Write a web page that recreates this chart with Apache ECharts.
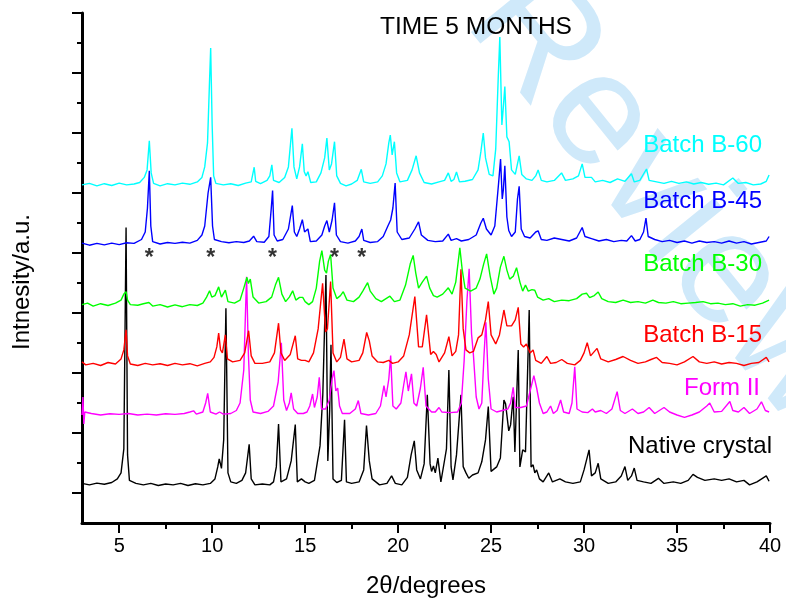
<!DOCTYPE html>
<html>
<head>
<meta charset="utf-8">
<script src="https://cdn.jsdelivr.net/npm/echarts@6/dist/echarts.min.js"></script>
<style>
  html, body { margin: 0; padding: 0; background: #fff; }
  #chart { width: 786px; height: 604px; }
</style>
</head>
<body>
<div id="chart"></div>
<script>
// Powder XRD patterns, [2θ (deg), intensity above the pattern's own baseline (a.u.)]
const batchB60 = [[3.0,0],[3.4,5],[3.8,-3],[4.2,4],[4.6,-2],[5.0,6],[5.4,0],[5.8,3],[6.1,8],[6.35,25],[6.5,50],[6.62,147],[6.72,40],[6.85,5],[7.2,-3],[7.6,4],[8.0,0],[8.4,6],[8.8,2],[9.2,10],[9.45,25],[9.6,60],[9.75,140],[9.85,330],[9.92,456],[10.0,200],[10.08,30],[10.2,5],[10.6,0],[11.0,4],[11.4,-2],[11.8,6],[12.1,10],[12.26,59],[12.34,12],[12.6,4],[12.95,15],[13.1,30],[13.21,67],[13.3,15],[13.6,8],[13.9,25],[14.1,60],[14.29,189],[14.4,60],[14.55,20],[14.7,60],[14.85,137],[14.95,45],[15.05,30],[15.15,44],[15.3,8],[15.6,10],[15.85,40],[16.05,90],[16.17,156],[16.3,50],[16.42,70],[16.58,144],[16.7,30],[16.9,5],[17.2,-3],[17.5,3],[17.8,15],[18.02,52],[18.15,10],[18.5,5],[18.9,10],[19.15,30],[19.35,70],[19.5,140],[19.58,166],[19.68,100],[19.8,144],[19.92,40],[20.1,10],[20.5,15],[20.75,50],[20.97,97],[21.15,40],[21.4,8],[21.8,3],[22.2,10],[22.5,15],[22.7,40],[22.85,12],[23.0,18],[23.14,43],[23.3,10],[23.6,12],[24.0,18],[24.3,50],[24.45,110],[24.58,173],[24.7,90],[24.9,35],[25.1,30],[25.25,120],[25.38,350],[25.47,493],[25.58,200],[25.66,260],[25.74,328],[25.85,160],[25.97,144],[26.1,50],[26.3,35],[26.51,97],[26.65,35],[26.9,20],[27.2,15],[27.4,30],[27.53,50],[27.7,15],[28.0,10],[28.4,15],[28.79,40],[29.0,15],[29.4,20],[29.7,30],[29.9,70],[30.05,25],[30.4,25],[30.6,10],[31.0,15],[31.4,8],[31.8,20],[32.2,12],[32.55,37],[32.7,10],[33.0,15],[33.36,53],[33.5,15],[33.9,10],[34.3,5],[34.7,12],[35.1,5],[35.5,10],[35.9,3],[36.3,8],[36.7,2],[37.1,6],[37.5,0],[38.0,23],[38.3,5],[38.7,8],[39.1,0],[39.5,3],[39.8,12],[39.95,33]];

const batchB45 = [[3.0,3],[3.4,-4],[3.8,2],[4.2,-3],[4.6,3],[5.0,-2],[5.4,4],[5.8,2],[6.2,15],[6.4,40],[6.52,120],[6.62,244],[6.7,60],[6.8,8],[7.2,0],[7.6,5],[8.0,2],[8.4,6],[8.8,3],[9.2,12],[9.45,30],[9.6,60],[9.78,170],[9.92,222],[10.02,60],[10.12,15],[10.5,8],[10.9,4],[11.3,8],[11.7,5],[12.0,10],[12.23,26],[12.4,8],[12.8,6],[13.05,25],[13.18,120],[13.25,178],[13.33,30],[13.5,10],[13.8,15],[14.1,50],[14.31,128],[14.42,40],[14.55,25],[14.7,50],[14.85,81],[14.97,40],[15.05,35],[15.15,50],[15.28,8],[15.6,10],[15.9,30],[16.05,60],[16.17,78],[16.3,40],[16.45,80],[16.58,137],[16.68,30],[16.9,8],[17.3,3],[17.7,10],[17.9,25],[18.05,50],[18.15,12],[18.5,5],[18.9,8],[19.2,25],[19.45,60],[19.6,80],[19.72,120],[19.84,203],[19.95,40],[20.2,15],[20.6,20],[20.9,50],[21.1,74],[21.25,30],[21.6,12],[22.0,8],[22.4,10],[22.7,33],[22.85,12],[23.14,18],[23.4,10],[23.8,15],[24.2,30],[24.45,70],[24.58,86],[24.75,50],[25.0,30],[25.2,60],[25.4,200],[25.51,283],[25.6,150],[25.66,180],[25.74,261],[25.85,90],[25.95,45],[26.1,25],[26.3,40],[26.42,150],[26.51,192],[26.62,50],[26.8,25],[27.1,20],[27.4,40],[27.53,44],[27.7,15],[28.0,12],[28.4,20],[28.8,15],[29.2,10],[29.6,20],[29.9,55],[30.05,25],[30.4,18],[30.8,10],[31.2,15],[31.6,8],[32.0,12],[32.3,10],[32.55,28],[32.75,10],[33.0,15],[33.2,40],[33.33,86],[33.45,25],[33.8,15],[34.2,8],[34.6,12],[35.0,5],[35.4,10],[35.8,3],[36.2,10],[36.6,5],[37.0,8],[37.4,3],[37.8,10],[38.2,3],[38.6,8],[39.0,0],[39.4,5],[39.8,10],[39.95,25]];

const batchB30 = [[3.0,5],[3.3,10],[3.6,0],[4.0,8],[4.4,2],[4.8,10],[5.1,20],[5.25,40],[5.37,48],[5.45,20],[5.6,5],[6.0,3],[6.3,8],[6.6,12],[6.8,0],[7.2,5],[7.6,-3],[8.0,4],[8.4,-2],[8.8,5],[9.2,2],[9.5,10],[9.7,30],[9.86,51],[9.98,30],[10.15,35],[10.35,64],[10.5,30],[10.71,53],[10.85,15],[11.2,10],[11.5,20],[11.7,60],[11.87,96],[11.95,75],[12.05,90],[12.2,30],[12.5,10],[12.9,15],[13.2,30],[13.4,70],[13.57,96],[13.75,40],[13.95,15],[14.15,30],[14.33,51],[14.5,20],[14.7,29],[14.87,29],[15.0,15],[15.2,5],[15.4,15],[15.6,60],[15.78,150],[15.9,185],[16.05,120],[16.15,110],[16.25,150],[16.37,172],[16.5,60],[16.7,25],[16.9,35],[17.05,48],[17.25,20],[17.6,15],[17.9,30],[18.1,50],[18.36,78],[18.5,50],[18.8,25],[19.1,15],[19.35,25],[19.56,33],[19.8,15],[20.1,20],[20.4,70],[20.65,140],[20.81,169],[20.95,110],[21.1,60],[21.3,80],[21.53,100],[21.7,60],[21.9,35],[22.1,30],[22.4,40],[22.7,61],[22.9,40],[23.1,80],[23.32,194],[23.45,120],[23.6,60],[23.9,50],[24.2,60],[24.4,90],[24.6,140],[24.76,174],[24.95,100],[25.15,40],[25.3,60],[25.5,130],[25.69,166],[25.85,120],[26.0,90],[26.2,100],[26.37,128],[26.55,80],[26.7,50],[26.85,70],[27.0,50],[27.2,55],[27.35,53],[27.5,30],[27.8,20],[28.1,25],[28.4,15],[28.8,20],[29.2,18],[29.6,25],[29.9,40],[30.13,43],[30.3,28],[30.55,35],[30.76,47],[30.95,25],[31.3,15],[31.7,12],[32.1,20],[32.5,12],[32.9,15],[33.3,10],[33.7,20],[34.0,12],[34.4,10],[34.8,15],[35.2,8],[35.6,10],[36.0,12],[36.4,15],[36.8,8],[37.2,10],[37.6,5],[38.0,8],[38.4,0],[38.8,5],[39.2,3],[39.6,10],[39.95,20]];

const batchB15 = [[3.0,10],[3.2,0],[3.6,5],[4.0,-2],[4.4,8],[4.8,3],[5.1,20],[5.25,50],[5.37,117],[5.45,30],[5.6,3],[6.0,-2],[6.4,5],[6.8,0],[7.2,4],[7.6,-2],[8.0,5],[8.4,0],[8.8,4],[9.2,-3],[9.6,5],[9.9,10],[10.1,25],[10.25,60],[10.35,106],[10.45,50],[10.55,40],[10.71,100],[10.82,20],[11.1,10],[11.5,15],[11.75,40],[11.96,114],[12.1,30],[12.3,5],[12.7,5],[13.1,10],[13.35,40],[13.57,139],[13.7,40],[13.9,15],[14.2,35],[14.47,97],[14.6,20],[14.8,15],[15.0,15],[15.2,10],[15.45,40],[15.7,120],[15.94,272],[16.1,110],[16.2,120],[16.37,278],[16.5,40],[16.7,10],[16.9,25],[17.09,86],[17.25,20],[17.5,10],[17.9,15],[18.1,40],[18.31,108],[18.45,80],[18.6,30],[18.9,10],[19.2,8],[19.5,15],[19.7,5],[20.0,10],[20.3,30],[20.6,100],[20.9,228],[21.1,60],[21.3,60],[21.53,167],[21.75,35],[21.9,45],[22.05,35],[22.2,10],[22.5,40],[22.73,94],[22.9,30],[23.1,45],[23.25,100],[23.38,319],[23.5,120],[23.65,50],[23.85,40],[24.05,45],[24.3,90],[24.5,100],[24.7,150],[24.85,211],[25.0,100],[25.25,70],[25.45,100],[25.69,183],[25.85,130],[26.1,130],[26.3,150],[26.46,192],[26.6,70],[26.75,60],[26.9,70],[27.1,40],[27.26,50],[27.4,15],[27.7,5],[28.0,28],[28.2,5],[28.5,8],[28.8,18],[29.1,5],[29.5,0],[29.8,15],[30.0,40],[30.17,74],[30.35,30],[30.7,55],[30.9,20],[31.3,10],[31.7,18],[32.1,28],[32.5,15],[32.9,5],[33.3,10],[33.6,18],[33.9,25],[34.2,8],[34.6,5],[35.0,0],[35.4,10],[35.86,28],[36.2,10],[36.6,5],[37.0,10],[37.4,3],[37.8,8],[38.2,5],[38.6,-2],[39.0,5],[39.4,8],[39.8,25],[39.95,10]];

const formII = [[3.0,0],[3.05,60],[3.1,-30],[3.15,10],[3.5,5],[4.0,0],[4.5,4],[5.0,2],[5.5,5],[6.0,0],[6.5,3],[7.0,0],[7.5,4],[8.0,2],[8.5,5],[8.8,10],[9.0,14],[9.15,3],[9.5,10],[9.65,40],[9.76,72],[9.9,10],[10.2,3],[10.4,10],[10.6,3],[11.0,5],[11.3,15],[11.5,40],[11.7,150],[11.85,461],[11.95,200],[12.05,50],[12.2,10],[12.6,5],[13.0,12],[13.3,30],[13.55,110],[13.72,241],[13.85,50],[14.0,15],[14.15,40],[14.25,74],[14.38,20],[14.6,5],[14.9,5],[15.1,10],[15.25,30],[15.4,70],[15.5,25],[15.65,60],[15.76,126],[15.88,20],[16.1,20],[16.3,50],[16.45,120],[16.55,148],[16.65,80],[16.75,90],[16.85,30],[17.0,5],[17.4,5],[17.7,20],[17.86,48],[18.0,5],[18.4,0],[18.8,5],[19.05,30],[19.24,98],[19.35,60],[19.5,120],[19.6,198],[19.72,30],[19.9,20],[20.15,40],[20.3,100],[20.42,144],[20.55,80],[20.72,137],[20.85,40],[21.0,30],[21.2,90],[21.35,159],[21.5,30],[21.8,10],[22.0,10],[22.2,25],[22.35,10],[22.8,8],[23.2,10],[23.4,40],[23.55,180],[23.7,380],[23.82,487],[23.95,270],[24.05,200],[24.2,60],[24.35,20],[24.5,40],[24.62,200],[24.72,309],[24.85,120],[25.0,20],[25.3,10],[25.6,15],[25.9,20],[26.05,40],[26.19,92],[26.3,25],[26.6,25],[26.9,30],[27.1,80],[27.3,131],[27.45,90],[27.6,40],[27.8,5],[28.0,10],[28.2,30],[28.35,5],[28.55,15],[28.74,50],[28.9,10],[29.2,5],[29.35,40],[29.5,161],[29.62,20],[29.9,10],[30.2,8],[30.45,20],[30.6,10],[30.9,15],[31.2,5],[31.5,20],[31.78,78],[31.95,15],[32.2,5],[32.6,20],[32.9,5],[33.2,10],[33.5,25],[33.8,5],[34.3,25],[34.6,10],[35.0,0],[35.4,-8],[35.8,0],[36.2,10],[36.6,30],[36.76,40],[37.0,10],[37.4,12],[37.84,45],[38.0,15],[38.3,10],[38.6,25],[38.9,5],[39.3,20],[39.54,44],[39.75,15],[39.95,10]];

const nativeCrystal = [[3.0,5],[3.4,0],[3.8,6],[4.2,2],[4.6,8],[4.9,20],[5.1,40],[5.25,120],[5.37,858],[5.45,100],[5.55,15],[5.9,5],[6.3,0],[6.7,5],[7.1,-2],[7.5,3],[7.9,0],[8.3,5],[8.7,-2],[9.1,4],[9.5,0],[9.9,5],[10.15,20],[10.3,60],[10.38,87],[10.5,55],[10.62,150],[10.74,589],[10.85,40],[11.0,10],[11.3,5],[11.6,15],[11.8,40],[11.99,135],[12.1,20],[12.3,0],[12.7,3],[13.1,0],[13.3,10],[13.45,60],[13.57,203],[13.7,10],[14.0,20],[14.25,80],[14.47,201],[14.58,10],[14.8,20],[15.0,10],[15.2,5],[15.5,15],[15.8,130],[15.95,300],[16.12,700],[16.22,80],[16.32,250],[16.39,467],[16.5,20],[16.7,8],[16.95,15],[17.12,217],[17.22,10],[17.5,5],[17.9,10],[18.15,50],[18.3,198],[18.45,80],[18.6,20],[19.0,0],[19.4,5],[19.65,30],[19.85,5],[20.2,0],[20.5,25],[20.7,100],[20.87,147],[21.0,50],[21.2,20],[21.4,70],[21.57,300],[21.72,70],[21.8,45],[21.9,63],[22.0,40],[22.14,89],[22.3,10],[22.5,83],[22.6,120],[22.73,383],[22.85,60],[22.95,17],[23.14,100],[23.38,300],[23.5,61],[23.65,40],[23.8,22],[24.0,33],[24.3,40],[24.5,77],[24.7,150],[24.85,261],[25.0,45],[25.3,60],[25.5,90],[25.69,283],[25.78,270],[25.95,180],[26.05,200],[26.19,294],[26.28,110],[26.38,300],[26.46,450],[26.55,60],[26.7,117],[26.85,110],[27.05,583],[27.15,60],[27.26,67],[27.35,40],[27.45,50],[27.6,20],[27.8,10],[28.1,40],[28.3,10],[28.7,20],[29.0,10],[29.4,5],[29.8,10],[30.0,50],[30.27,117],[30.4,30],[30.6,40],[30.76,72],[30.9,20],[31.3,5],[31.7,10],[32.0,30],[32.2,61],[32.35,15],[32.55,30],[32.7,56],[32.85,15],[33.2,10],[33.6,5],[34.0,22],[34.3,5],[34.8,10],[35.2,5],[35.6,15],[35.86,35],[36.1,25],[36.5,15],[37.0,20],[37.4,15],[37.8,20],[38.2,10],[38.6,15],[38.9,0],[39.3,10],[39.8,30],[39.95,12]];

// vertical stacking offsets for each pattern (same a.u.)
const seriesNames = ['Batch B-60', 'Batch B-45', 'Batch B-30', 'Batch B-15', 'Form II', 'Native crystal'];
const seriesColors = ['#00ffff', '#0000ff', '#00ff00', '#ff0000', '#ff00ff', '#000000'];
const stackOffsets = [1127, 930, 723, 527, 360, 127];
const patterns = [batchB60, batchB45, batchB30, batchB15, formII, nativeCrystal];

// peaks flagged with an asterisk
const starredPeaks = [6.62, 9.92, 13.25, 16.58, 18.05];
const starLevel = 880;

// tick positions
const xMajorTicks = [5, 10, 15, 20, 25, 30, 35, 40];
const xMinorTicks = [7.5, 12.5, 17.5, 22.5, 27.5, 32.5, 37.5];
const yMajorTicks = [100, 300, 500, 700, 900, 1100, 1300, 1500, 1700];
const yMinorTicks = [200, 400, 600, 800, 1000, 1200, 1400, 1600];

const FONT = "'Liberation Sans', Arial, sans-serif";
const NARROW = "'Liberation Sans Narrow', 'Arial Narrow', 'Liberation Sans', sans-serif";

const chart = echarts.init(document.getElementById('chart'), null, { renderer: 'canvas' });

const lineSeries = patterns.map((pts, i) => ({
  name: seriesNames[i],
  type: 'line',
  xAxisIndex: 0,
  yAxisIndex: 0,
  showSymbol: false,
  symbol: 'none',
  silent: true,
  z: 10 - i,
  lineStyle: { color: seriesColors[i], width: 1.4 },
  data: pts.map(p => [p[0], p[1] + stackOffsets[i]])
}));

const starSeries = {
  type: 'scatter',
  xAxisIndex: 0,
  yAxisIndex: 0,
  symbolSize: 0,
  silent: true,
  z: 20,
  label: {
    show: true, position: 'inside', formatter: '*',
    color: '#000', fontSize: 23, fontFamily: FONT, fontWeight: 'bold'
  },
  data: starredPeaks.map(x => [x, starLevel])
};

const axisLineStyle = { color: '#000', width: 3 };

const option = {
  backgroundColor: '#fff',
  animation: false,
  grid: { left: 82, right: 16, top: 13, bottom: 81, containLabel: false, z: 5 },
  xAxis: [
    {
      type: 'value', min: 3, max: 40, position: 'bottom',
      axisLine: { show: true, lineStyle: axisLineStyle },
      axisTick: { show: true, customValues: xMajorTicks, length: 10, lineStyle: { color: '#000', width: 2 } },
      axisLabel: { show: true, customValues: xMajorTicks, margin: 13, color: '#000', fontSize: 20, fontFamily: NARROW },
      splitLine: { show: false }
    },
    {
      type: 'value', min: 3, max: 40, position: 'bottom',
      axisLine: { show: false },
      axisTick: { show: true, customValues: xMinorTicks, length: 6, lineStyle: { color: '#000', width: 2 } },
      axisLabel: { show: false },
      splitLine: { show: false }
    }
  ],
  yAxis: [
    {
      type: 'value', min: 0, max: 1700, position: 'left',
      axisLine: { show: true, lineStyle: axisLineStyle },
      axisTick: { show: true, customValues: yMajorTicks, length: 10, lineStyle: { color: '#000', width: 2 } },
      axisLabel: { show: false },
      splitLine: { show: false }
    },
    {
      type: 'value', min: 0, max: 1700, position: 'left',
      axisLine: { show: false },
      axisTick: { show: true, customValues: yMinorTicks, length: 5, lineStyle: { color: '#000', width: 2 } },
      axisLabel: { show: false },
      splitLine: { show: false }
    }
  ],
  graphic: [
    // light diagonal watermark behind the plot
    { type: 'text', x: 497, y: -6, rotation: -0.89, z: -10, zlevel: 0, silent: true, style: { text: 'Review', font: `160px ${FONT}`, fill: '#cfe9fa', textAlign: 'left', textVerticalAlign: 'middle' } },
    { type: 'text', x: 380, y: 27, z: 30, style: { text: 'TIME 5 MONTHS', font: `24.5px ${FONT}`, fill: '#000', textAlign: 'left', textVerticalAlign: 'middle' } },
    { type: 'text', x: 762, y: 145, z: 30, style: { text: 'Batch B-60', font: `24px ${FONT}`, fill: '#00ffff', textAlign: 'right', textVerticalAlign: 'middle' } },
    { type: 'text', x: 762, y: 201, z: 30, style: { text: 'Batch B-45', font: `24px ${FONT}`, fill: '#0000ff', textAlign: 'right', textVerticalAlign: 'middle' } },
    { type: 'text', x: 762, y: 264, z: 30, style: { text: 'Batch B-30', font: `24px ${FONT}`, fill: '#00ff00', textAlign: 'right', textVerticalAlign: 'middle' } },
    { type: 'text', x: 762, y: 335, z: 30, style: { text: 'Batch B-15', font: `24px ${FONT}`, fill: '#ff0000', textAlign: 'right', textVerticalAlign: 'middle' } },
    { type: 'text', x: 760, y: 388, z: 30, style: { text: 'Form II', font: `24px ${FONT}`, fill: '#ff00ff', textAlign: 'right', textVerticalAlign: 'middle' } },
    { type: 'text', x: 772, y: 446, z: 30, style: { text: 'Native crystal', font: `24px ${FONT}`, fill: '#000', textAlign: 'right', textVerticalAlign: 'middle' } },
    { type: 'text', x: 426, y: 586, z: 30, style: { text: '2θ/degrees', font: `24px ${FONT}`, fill: '#000', textAlign: 'center', textVerticalAlign: 'middle' } },
    { type: 'text', x: 22, y: 282, rotation: Math.PI / 2, z: 30, style: { text: 'Intnesity/a.u.', font: `24px ${FONT}`, fill: '#000', textAlign: 'center', textVerticalAlign: 'middle' } }
  ],
  series: [...lineSeries, starSeries]
};

chart.setOption(option);
</script>
</body>
</html>
